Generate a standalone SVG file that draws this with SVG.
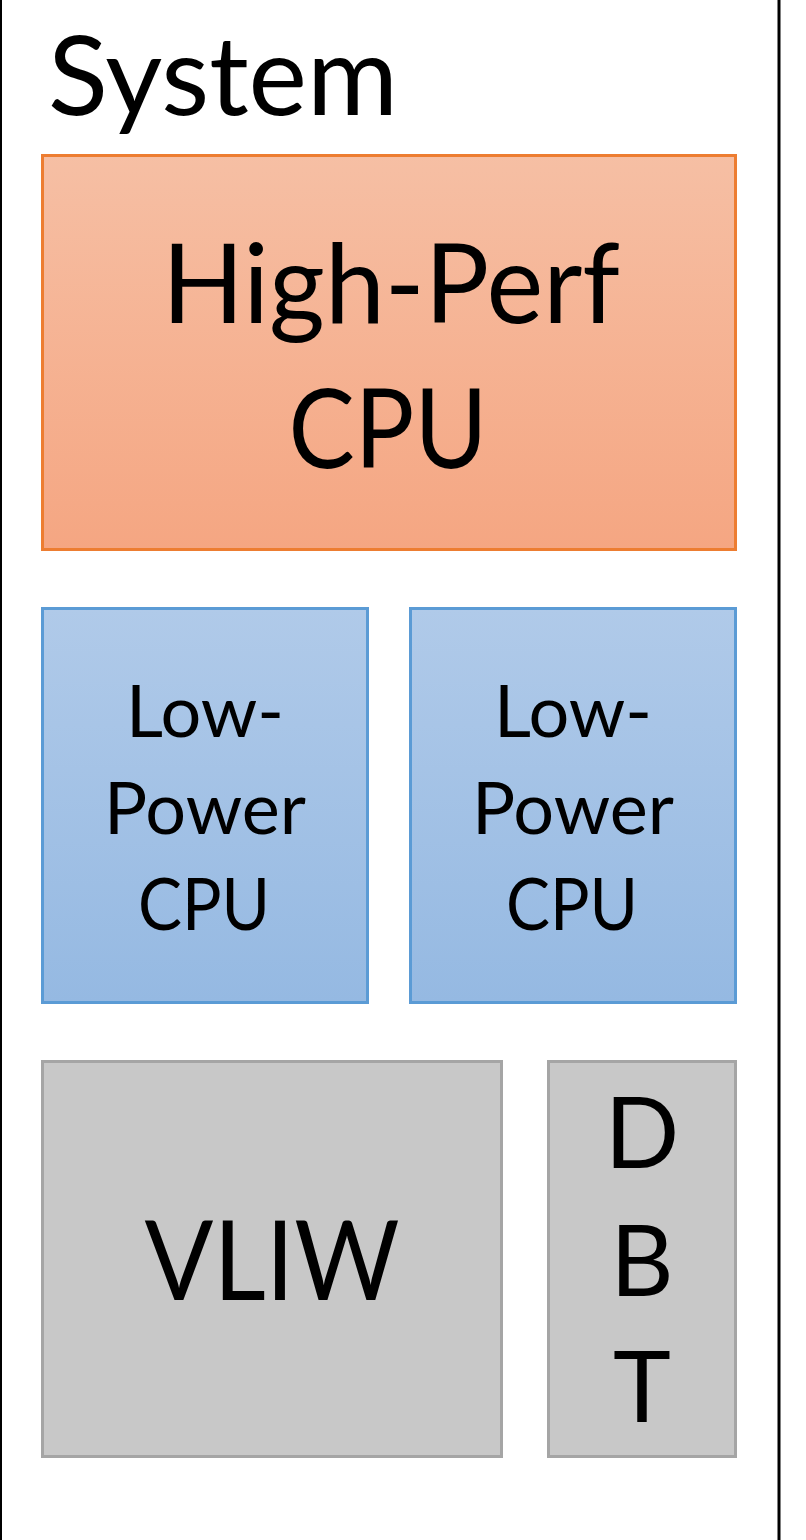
<svg xmlns="http://www.w3.org/2000/svg" width="806" height="1540" viewBox="0 0 806 1540">
<defs>
<linearGradient id="gOrange" x1="0" y1="0" x2="0" y2="1"><stop offset="0" stop-color="#F6BFA4"/><stop offset="1" stop-color="#F5A682"/></linearGradient>
<linearGradient id="gBlue" x1="0" y1="0" x2="0" y2="1"><stop offset="0" stop-color="#B0CAE9"/><stop offset="1" stop-color="#95B9E2"/></linearGradient>
<style>
text{font-family:Lato,"Open Sans","Liberation Sans",sans-serif;fill:#000;text-anchor:middle}
.orange{fill:url(#gOrange);stroke:#ED7D31;stroke-width:3}
.blue{fill:url(#gBlue);stroke:#5B9BD5;stroke-width:3}
.gray{fill:#C8C8C8;stroke:#A5A5A5;stroke-width:3}
.big{font-size:110px}
.mid{font-size:72px}
.dbt{font-size:98px}
</style>
</defs>
<rect width="806" height="1540" fill="#fff"/>
<g id="system">
<line x1="1" y1="0" x2="1" y2="1540" stroke="#000" stroke-width="2"/>
<line x1="779" y1="0" x2="779" y2="1540" stroke="#000" stroke-width="3"/>
<text x="48" y="115" style="text-anchor:start;font-size:110px" textLength="350" lengthAdjust="spacingAndGlyphs">System</text>
</g>
<g id="highperf">
<rect class="orange" x="42.5" y="155.5" width="693" height="394"/>
<text class="big" x="391" y="323" textLength="458" lengthAdjust="spacingAndGlyphs">High-Perf</text>
<text class="big" x="388" y="468" textLength="199" lengthAdjust="spacingAndGlyphs">CPU</text>
</g>
<g id="lowpower1">
<rect class="blue" x="42.5" y="608.5" width="325" height="394"/>
<text class="mid" x="205" y="737">Low-</text>
<text class="mid" x="205" y="834">Power</text>
<text class="mid" x="204" y="930" textLength="132" lengthAdjust="spacingAndGlyphs">CPU</text>
</g>
<g id="lowpower2">
<rect class="blue" x="410.5" y="608.5" width="325" height="394"/>
<text class="mid" x="573" y="737">Low-</text>
<text class="mid" x="573" y="834">Power</text>
<text class="mid" x="572" y="930" textLength="132" lengthAdjust="spacingAndGlyphs">CPU</text>
</g>
<g id="vliw">
<rect class="gray" x="42.5" y="1061.5" width="459" height="395"/>
<text class="big" x="272" y="1300" textLength="255" lengthAdjust="spacingAndGlyphs">VLIW</text>
</g>
<g id="dbt">
<rect class="gray" x="548.5" y="1061.5" width="187" height="395"/>
<text class="dbt" x="642" y="1168">D</text>
<text class="dbt" x="642" y="1296">B</text>
<text class="dbt" x="642" y="1422">T</text>
</g>
<g id="connectors"/>
</svg>
